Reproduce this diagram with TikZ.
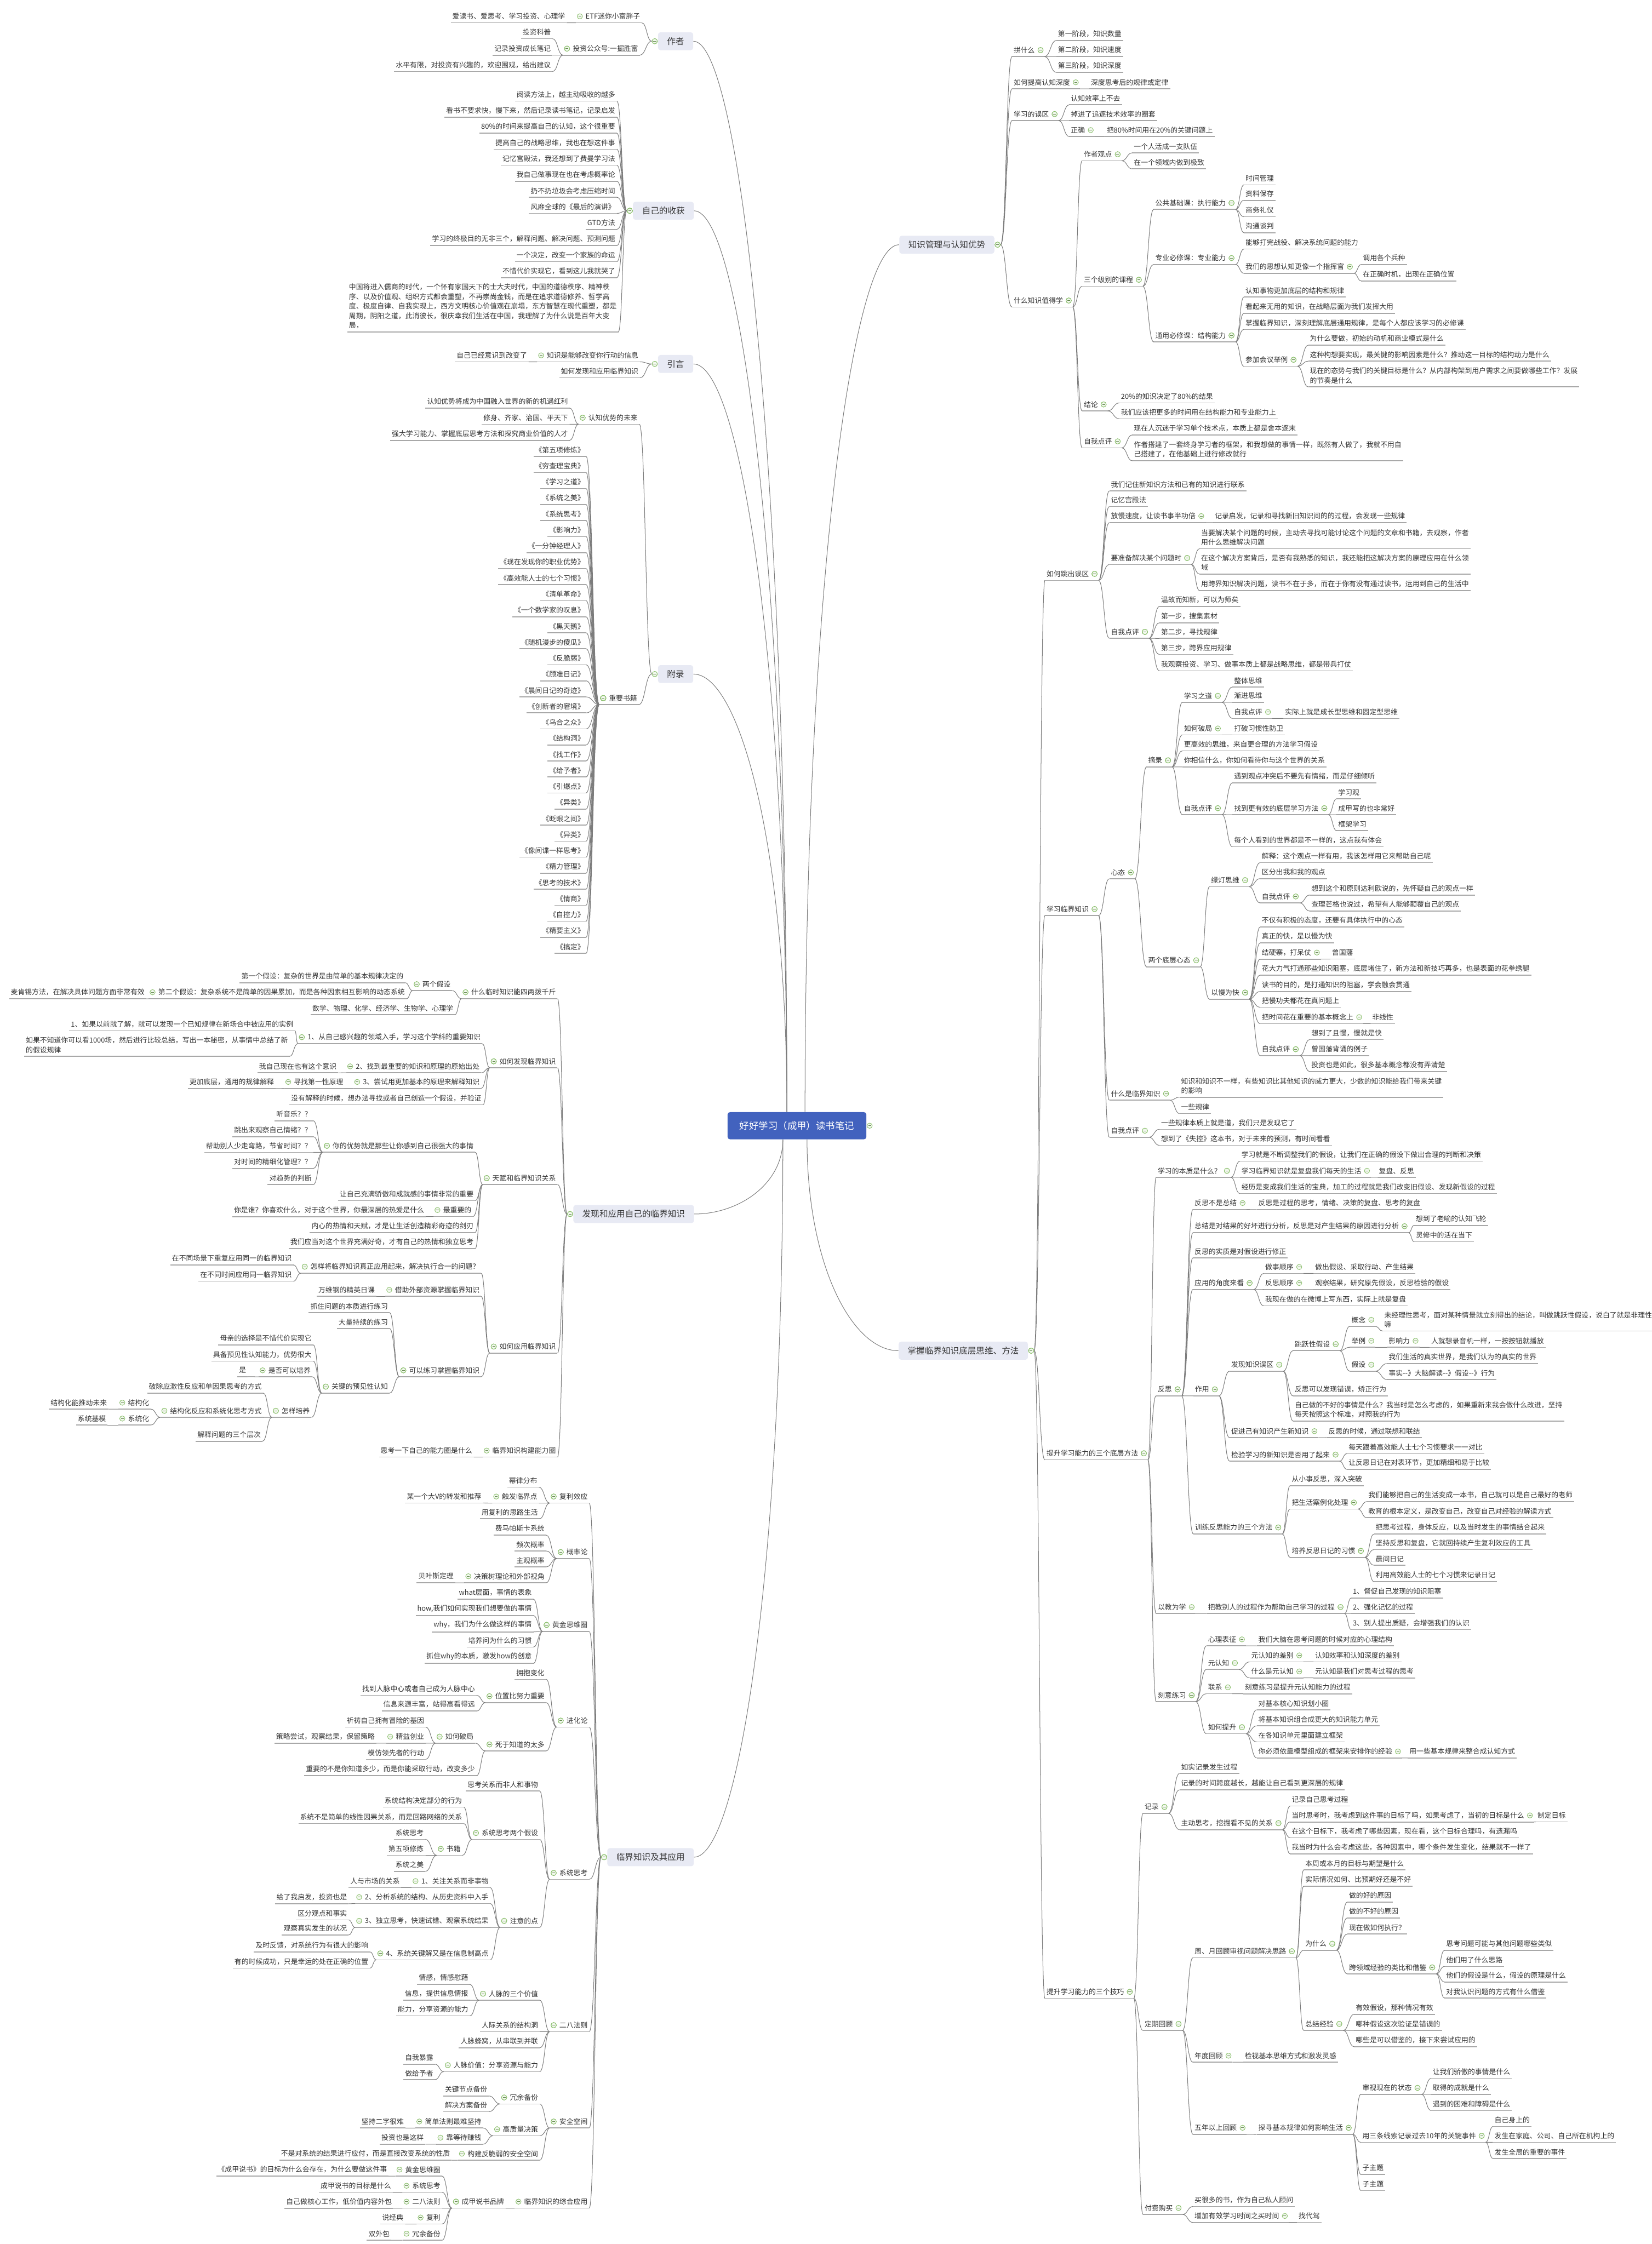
\documentclass[tikz,border=0pt]{standalone}
\usepackage{fontspec}
\setmainfont{Noto Sans CJK SC}
\usetikzlibrary{calc}
\definecolor{inkgray}{HTML}{333333}
\definecolor{ulgray}{HTML}{A8A8A8}
\definecolor{lnkgray}{HTML}{7C7C7C}
\definecolor{rootblue}{HTML}{4262BE}
\definecolor{boxfill}{HTML}{E8EAF4}
\definecolor{knobgreen}{HTML}{8CC06E}
\definecolor{knobfill}{HTML}{F2F8EE}
\tikzset{
  tp/.style={inner xsep=1.5pt, inner ysep=3pt, align=left, text=inkgray, font=\fontsize{7}{9.5}\selectfont},
  mainbox/.style={fill=boxfill, rounded corners=2.5pt, inner xsep=9pt, inner ysep=5pt, text=inkgray, font=\fontsize{8.5}{10}\selectfont},
  rootbox/.style={fill=rootblue, rounded corners=2.5pt, inner xsep=12pt, inner ysep=9pt, text=white, font=\fontsize{9.5}{11}\selectfont},
  ul/.style={draw=ulgray, line width=0.9pt},
  lnk/.style={draw=lnkgray, line width=0.55pt},
  knob/.style={draw=knobgreen, fill=knobfill, line width=0.5pt},
  knobbar/.style={draw=knobgreen!70!black, line width=0.5pt}
}
% link from a parent's out point to a child's underline end
\newcommand\lnkto[2]{%
  \draw[ul] (#1-u) -- (#1-o);
  \draw[lnk] (#1-o) .. controls ($(#1-o)!.5!(#1-o -| #2)$) and ($(#1-o |- #2)!.5!(#2)$) .. (#2);
  \draw[knob] (#1-k) circle[radius=2.6pt];
  \draw[knobbar] ([xshift=-1.4pt]#1-k) -- ([xshift=1.4pt]#1-k);}
% topics: name, parent, x, y, text
\newcommand\tpR[5]{%
  \node[tp,anchor=west] (#1) at ({#3},{#4}) {#5};
  \draw[ul] (#1.south west) -- (#1.south east);
  \coordinate (#1-u) at (#1.south east);
  \coordinate (#1-o) at ([xshift=8pt]#1.south east);
  \coordinate (#1-k) at ([xshift=4pt]#1.east);
  \lnkto{#2}{#1.south west}}
\newcommand\tpL[5]{%
  \node[tp,anchor=east] (#1) at ({#3},{#4}) {#5};
  \draw[ul] (#1.south west) -- (#1.south east);
  \coordinate (#1-u) at (#1.south west);
  \coordinate (#1-o) at ([xshift=-8pt]#1.south west);
  \coordinate (#1-k) at ([xshift=-4pt]#1.west);
  \lnkto{#2}{#1.south east}}
% main boxes: name, x, y, text
\newcommand\boxR[4]{%
  \node[mainbox] (#1) at (#2,#3) {#4};
  \coordinate (#1-u) at ([xshift=6pt]#1.east);
  \coordinate (#1-o) at ([xshift=6pt]#1.east);
  \coordinate (#1-k) at ([xshift=3pt]#1.east);}
\newcommand\boxL[4]{%
  \node[mainbox] (#1) at (#2,#3) {#4};
  \coordinate (#1-u) at ([xshift=-6pt]#1.west);
  \coordinate (#1-o) at ([xshift=-6pt]#1.west);
  \coordinate (#1-k) at ([xshift=-3pt]#1.west);}
\newcommand\rootto[2]{%
  \draw[lnk] (#1) .. controls ($(#1)!.6!(#1 |- #2)$) and ($(#2)!.5!(#2 -| #1)$) .. (#2);}

\begin{document}
\begin{tikzpicture}[x=0.05cm,y=-0.05cm]
\useasboundingbox (0,0) rectangle (1154,1568);
\fill[white] (0,0) rectangle (1154,1568);

\node[rootbox] (root) at (556.8,786.6) {好好学习（成甲）读书笔记};
\coordinate (rtl) at ([xshift=-10pt]root.north);
\coordinate (rtr) at ([xshift=8pt]root.north);
\coordinate (rbl) at ([xshift=-14pt]root.south);
\coordinate (rbr) at ([xshift=10pt]root.south);

\boxL{au}{472}{28.8}{作者}
\boxL{sh}{463.5}{147.3}{自己的收获}
\boxL{yy}{472}{254.3}{引言}
\boxL{fl}{472}{471}{附录}
\boxL{fx}{442.7}{848.3}{发现和应用自己的临界知识}
\boxL{lj}{454.5}{1297.7}{临界知识及其应用}
\boxR{km}{661.5}{171}{知识管理与认知优势}
\boxR{zw}{673}{943.8}{掌握临界知识底层思维、方法}

\rootto{rtl}{au.east}
\rootto{rtl}{sh.east}
\rootto{rtl}{yy.east}
\rootto{rtl}{fl.east}
\rootto{rtr}{km.west}
\rootto{rbl}{fx.east}
\rootto{rbl}{lj.east}
\rootto{rbr}{zw.west}
\draw[knob] ([xshift=3pt]root.east) circle[radius=2.6pt];
\draw[knobbar] ([xshift=1.6pt]root.east) -- ([xshift=4.4pt]root.east);

% 知识管理与认知优势
\tpR{km1}{km}{707}{35}{拼什么}
\tpR{km1a}{km1}{738}{23.7}{第一阶段，知识数量}
\tpR{km1b}{km1}{738}{34.9}{第二阶段，知识速度}
\tpR{km1c}{km1}{738}{46}{第三阶段，知识深度}
\tpR{km2}{km}{707}{57.5}{如何提高认知深度}
\tpR{km2a}{km2}{761}{57.5}{深度思考后的规律或定律}
\tpR{km3}{km}{707}{79.7}{学习的误区}
\tpR{km3a}{km3}{747}{68.7}{认知效率上不去}
\tpR{km3b}{km3}{747}{79.7}{掉进了追逐技术效率的圈套}
\tpR{km3c}{km3}{747}{90.9}{正确}
\tpR{km3c1}{km3c}{772}{90.9}{把80\%时间用在20\%的关键问题上}
\tpR{km4}{km}{707}{210}{什么知识值得学}
\tpR{km4a}{km4}{756}{107.8}{作者观点}
\tpR{km4a1}{km4a}{791}{102.3}{一个人活成一支队伍}
\tpR{km4a2}{km4a}{791}{113.5}{在一个领域内做到极致}
\tpR{km4b}{km4}{756}{195.5}{三个级别的课程}
\tpR{km4b1}{km4b}{806}{141.8}{公共基础课：执行能力}
\tpR{km4b1a}{km4b1}{869}{124.7}{时间管理}
\tpR{km4b1b}{km4b1}{869}{135.5}{资料保存}
\tpR{km4b1c}{km4b1}{869}{146.9}{商务礼仪}
\tpR{km4b1d}{km4b1}{869}{158.1}{沟通谈判}
\tpR{km4b2}{km4b}{806}{180.3}{专业必修课：专业能力}
\tpR{km4b2a}{km4b2}{869}{169.5}{能够打完战役、解决系统问题的能力}
\tpR{km4b2b}{km4b2}{869}{186.4}{我们的思想认知更像一个指挥官}
\tpR{km4b2b1}{km4b2b}{951}{180.3}{调用各个兵种}
\tpR{km4b2b2}{km4b2b}{951}{191.7}{在正确时机，出现在正确位置}
\tpR{km4b3}{km4b}{806}{234.4}{通用必修课：结构能力}
\tpR{km4b3a}{km4b3}{869}{203}{认知事物更加底层的结构和规律}
\tpR{km4b3b}{km4b3}{869}{214.4}{看起来无用的知识，在战略层面为我们发挥大用}
\tpR{km4b3c}{km4b3}{869}{225.6}{掌握临界知识，深刻理解底层通用规律，是每个人都应该学习的必修课}
\tpR{km4b3d}{km4b3}{869}{251.4}{参加会议举例}
\tpR{km4b3d1}{km4b3d}{914}{236.6}{为什么要做，初始的动机和商业模式是什么}
\tpR{km4b3d2}{km4b3d}{914}{247.8}{这种构想要实现，最关键的影响因素是什么？推动这一目标的结构动力是什么}
\tpR{km4b3d3}{km4b3d}{914}{262.5}{现在的态势与我们的关键目标是什么？从内部构架到用户需求之间要做哪些工作？发展\\的节奏是什么}
\tpR{km4c}{km4}{756}{282.6}{结论}
\tpR{km4c1}{km4c}{782}{277}{20\%的知识决定了80\%的结果}
\tpR{km4c2}{km4c}{782}{288.1}{我们应该把更多的时间用在结构能力和专业能力上}
\tpR{km4d}{km4}{756}{308.4}{自我点评}
\tpR{km4d1}{km4d}{791}{299.3}{现在人沉迷于学习单个技术点，本质上都是舍本逐末}
\tpR{km4d2}{km4d}{791}{314}{作者搭建了一套终身学习者的框架，和我想做的事情一样，既然有人做了，我就不用自\\己搭建了，在他基础上进行修改就行}

% 掌握临界知识底层思维、方法
\tpR{zw1}{zw}{730}{401}{如何跳出误区}
\tpR{zw1a}{zw1}{775}{338.5}{我们记住新知识方法和已有的知识进行联系}
\tpR{zw1b}{zw1}{775}{349.4}{记忆宫殿法}
\tpR{zw1c}{zw1}{775}{360.6}{放慢速度，让读书事半功倍}
\tpR{zw1c1}{zw1c}{847.6}{360.6}{记录启发，记录和寻找新旧知识间的的过程，会发现一些规律}
\tpR{zw1d}{zw1}{775}{389.9}{要准备解决某个问题时}
\tpR{zw1d1}{zw1d}{838}{375.5}{当要解决某个问题的时候，主动去寻找可能讨论这个问题的文章和书籍，去观察，作者\\用什么思维解决问题}
\tpR{zw1d2}{zw1d}{838}{393.2}{在这个解决方案背后，是否有我熟悉的知识，我还能把这解决方案的原理应用在什么领\\域}
\tpR{zw1d3}{zw1d}{838}{408}{用跨界知识解决问题，读书不在于多，而在于你有没有通过读书，运用到自己的生活中}
\tpR{zw1e}{zw1}{775}{441.5}{自我点评}
\tpR{zw1e1}{zw1e}{810}{419.2}{温故而知新，可以为师矣}
\tpR{zw1e2}{zw1e}{810}{430.6}{第一步，搜集素材}
\tpR{zw1e3}{zw1e}{810}{441.5}{第二步，寻找规律}
\tpR{zw1e4}{zw1e}{810}{452.7}{第三步，跨界应用规律}
\tpR{zw1e5}{zw1e}{810}{464.1}{我观察投资、学习、做事本质上都是战略思维，都是带兵打仗}

\tpR{zw2}{zw}{730}{635.2}{学习临界知识}
\tpR{zw2a}{zw2}{775}{609.6}{心态}
\tpR{zw2a1}{zw2a}{801}{531.3}{摘录}
\tpR{zw2a1a}{zw2a1}{826}{486.2}{学习之道}
\tpR{zw2a1a1}{zw2a1a}{861}{475.5}{整体思维}
\tpR{zw2a1a2}{zw2a1a}{861}{486.2}{渐进思维}
\tpR{zw2a1a3}{zw2a1a}{861}{497.5}{自我点评}
\tpR{zw2a1a3a}{zw2a1a3}{896.6}{497.5}{实际上就是成长型思维和固定型思维}
\tpR{zw2a1b}{zw2a1}{826}{509}{如何破局}
\tpR{zw2a1b1}{zw2a1b}{861}{509}{打破习惯性防卫}
\tpR{zw2a1c}{zw2a1}{826}{520.1}{更高效的思维，来自更合理的方法学习假设}
\tpR{zw2a1d}{zw2a1}{826}{531.3}{你相信什么，你如何看待你与这个世界的关系}
\tpR{zw2a1e}{zw2a1}{826}{564.7}{自我点评}
\tpR{zw2a1e1}{zw2a1e}{861}{542.4}{遇到观点冲突后不要先有情绪，而是仔细倾听}
\tpR{zw2a1e2}{zw2a1e}{861}{564.7}{找到更有效的底层学习方法}
\tpR{zw2a1e2a}{zw2a1e2}{933.8}{553.6}{学习观}
\tpR{zw2a1e2b}{zw2a1e2}{933.8}{564.7}{成甲写的也非常好}
\tpR{zw2a1e2c}{zw2a1e2}{933.8}{575.9}{框架学习}
\tpR{zw2a1e3}{zw2a1e}{861}{587.1}{每个人看到的世界都是不一样的，这点我有体会}
\tpR{zw2a2}{zw2a}{801}{671}{两个底层心态}
\tpR{zw2a2a}{zw2a2}{845}{615}{绿灯思维}
\tpR{zw2a2a1}{zw2a2a}{880.4}{598.2}{解释：这个观点一样有用，我该怎样用它来帮助自己呢}
\tpR{zw2a2a2}{zw2a2a}{880.4}{609.4}{区分出我和我的观点}
\tpR{zw2a2a3}{zw2a2a}{880.4}{626.4}{自我点评}
\tpR{zw2a2a3a}{zw2a2a3}{915}{620.8}{想到这个和原则达利欧说的，先怀疑自己的观点一样}
\tpR{zw2a2a3b}{zw2a2a3}{915}{632}{查理芒格也说过，希望有人能够颠覆自己的观点}
\tpR{zw2a2b}{zw2a2}{845}{693.6}{以慢为快}
\tpR{zw2a2b1}{zw2a2b}{880.4}{643.1}{不仅有积极的态度，还要有具体执行中的心态}
\tpR{zw2a2b2}{zw2a2b}{880.4}{654.3}{真正的快，是以慢为快}
\tpR{zw2a2b3}{zw2a2b}{880.4}{665.6}{结硬寨，打呆仗}
\tpR{zw2a2b3a}{zw2a2b3}{929.4}{665.6}{曾国藩}
\tpR{zw2a2b4}{zw2a2b}{880.4}{676.8}{花大力气打通那些知识阻塞，底层堵住了，新方法和新技巧再多，也是表面的花拳绣腿}
\tpR{zw2a2b5}{zw2a2b}{880.4}{688.2}{读书的目的，是打通知识的阻塞，学会融会贯通}
\tpR{zw2a2b6}{zw2a2b}{880.4}{699.3}{把慢功夫都花在真问题上}
\tpR{zw2a2b7}{zw2a2b}{880.4}{710.7}{把时间花在重要的基本概念上}
\tpR{zw2a2b7a}{zw2a2b7}{957.5}{710.7}{非线性}
\tpR{zw2a2b8}{zw2a2b}{880.4}{733.1}{自我点评}
\tpR{zw2a2b8a}{zw2a2b8}{915}{721.8}{想到了且慢，慢就是快}
\tpR{zw2a2b8b}{zw2a2b8}{915}{733.1}{曾国藩背诵的例子}
\tpR{zw2a2b8c}{zw2a2b8}{915}{744.1}{投资也是如此，很多基本概念都没有弄清楚}
\tpR{zw2b}{zw2}{775}{764.2}{什么是临界知识}
\tpR{zw2b1}{zw2b}{824}{758.8}{知识和知识不一样，有些知识比其他知识的威力更大，少数的知识能给我们带来关键\\的影响}
\tpR{zw2b2}{zw2b}{824}{773.6}{一些规律}
\tpR{zw2c}{zw2}{775}{790.1}{自我点评}
\tpR{zw2c1}{zw2c}{810}{784.5}{一些规律本质上就是道，我们只是发现它了}
\tpR{zw2c2}{zw2c}{810}{795.7}{想到了《失控》这本书，对于未来的预测，有时间看看}

\tpR{zw3}{zw}{730}{1015.5}{提升学习能力的三个底层方法}
\tpR{zw3a}{zw3}{807.7}{818.1}{学习的本质是什么？}
\tpR{zw3a1}{zw3a}{866.2}{806.8}{学习就是不断调整我们的假设，让我们在正确的假设下做出合理的判断和决策}
\tpR{zw3a2}{zw3a}{866.2}{818.1}{学习临界知识就是复盘我们每天的生活}
\tpR{zw3a2a}{zw3a2}{962.2}{818.1}{复盘、反思}
\tpR{zw3a3}{zw3a}{866.2}{829.4}{经历是变成我们生活的宝典，加工的过程就是我们改变旧假设、发现新假设的过程}
\tpR{zw3b}{zw3}{807.7}{970.8}{反思}
\tpR{zw3b1}{zw3b}{833.4}{840.6}{反思不是总结}
\tpR{zw3b1a}{zw3b1}{878}{840.6}{反思是过程的思考，情绪、决策的复盘、思考的复盘}
\tpR{zw3b2}{zw3b}{833.4}{856.8}{总结是对结果的好坏进行分析，反思是对产生结果的原因进行分析}
\tpR{zw3b2a}{zw3b2}{988}{851.7}{想到了老喻的认知飞轮}
\tpR{zw3b2b}{zw3b2}{988}{863.1}{灵修中的活在当下}
\tpR{zw3b3}{zw3b}{833.4}{874.4}{反思的实质是对假设进行修正}
\tpR{zw3b4}{zw3b}{833.4}{896.5}{应用的角度来看}
\tpR{zw3b4a}{zw3b4}{882.8}{885.3}{做事顺序}
\tpR{zw3b4a1}{zw3b4a}{917.6}{885.3}{做出假设、采取行动、产生结果}
\tpR{zw3b4b}{zw3b4}{882.8}{896.5}{反思顺序}
\tpR{zw3b4b1}{zw3b4b}{917.6}{896.5}{观察结果，研究原先假设，反思检验的假设}
\tpR{zw3b4c}{zw3b4}{882.8}{907.8}{我现在做的在微博上写东西，实际上就是复盘}
\tpR{zw3b5}{zw3b}{833.7}{970.8}{作用}
\tpR{zw3b5a}{zw3b5}{859}{953.6}{发现知识误区}
\tpR{zw3b5a1}{zw3b5a}{903.4}{939.2}{跳跃性假设}
\tpR{zw3b5a1a}{zw3b5a1}{943}{922.2}{概念}
\tpR{zw3b5a1a1}{zw3b5a1a}{966}{922.2}{未经理性思考，面对某种情景就立刻得出的结论，叫做跳跃性假设，说白了就是非理性\\嘛}
\tpR{zw3b5a1b}{zw3b5a1}{943}{936.9}{举例}
\tpR{zw3b5a1b1}{zw3b5a1b}{969}{936.9}{影响力}
\tpR{zw3b5a1b1a}{zw3b5a1b1}{998.7}{936.9}{人就想录音机一样，一按按钮就播放}
\tpR{zw3b5a1c}{zw3b5a1}{943}{953.6}{假设}
\tpR{zw3b5a1c1}{zw3b5a1c}{969}{948.2}{我们生活的真实世界，是我们认为的真实的世界}
\tpR{zw3b5a1c2}{zw3b5a1c}{969}{959.4}{事实-{}-》大脑解读-{}-》假设-{}-》行为}
\tpR{zw3b5a2}{zw3b5a}{903.4}{970.8}{反思可以发现错误，矫正行为}
\tpR{zw3b5a3}{zw3b5a}{903.4}{985.1}{自己做的不好的事情是什么？我当时是怎么考虑的，如果重新来我会做什么改进，坚持\\每天按照这个标准，对照我的行为}
\tpR{zw3b5b}{zw3b5}{859}{1000}{促进己有知识产生新知识}
\tpR{zw3b5b1}{zw3b5b}{927}{1000}{反思的时候，通过联想和联结}
\tpR{zw3b5c}{zw3b5}{859}{1016.4}{检验学习的新知识是否用了起来}
\tpR{zw3b5c1}{zw3b5c}{941}{1011.2}{每天跟着高效能人士七个习惯要求一一对比}
\tpR{zw3b5c2}{zw3b5c}{941}{1022.1}{让反思日记在对表环节，更加精细和易于比较}
\tpR{zw3b6}{zw3b}{833.7}{1067.3}{训练反思能力的三个方法}
\tpR{zw3b6a}{zw3b6}{901.3}{1033.5}{从小事反思，深入突破}
\tpR{zw3b6b}{zw3b6}{901.3}{1049.9}{把生活案例化处理}
\tpR{zw3b6b1}{zw3b6b}{954.8}{1044.7}{我们能够把自己的生活变成一本书，自己就可以是自己最好的老师}
\tpR{zw3b6b2}{zw3b6b}{954.8}{1055.9}{教育的根本定义，是改变自己，改变自己对经验的解读方式}
\tpR{zw3b6c}{zw3b6}{901.3}{1083.7}{培养反思日记的习惯}
\tpR{zw3b6c1}{zw3b6c}{959.9}{1067.3}{把思考过程，身体反应，以及当时发生的事情结合起来}
\tpR{zw3b6c2}{zw3b6c}{959.9}{1078.2}{坚持反思和复盘，它就回持续产生复利效应的工具}
\tpR{zw3b6c3}{zw3b6c}{959.9}{1089.2}{晨间日记}
\tpR{zw3b6c4}{zw3b6c}{959.9}{1100.6}{利用高效能人士的七个习惯来记录日记}
\tpR{zw3c}{zw3}{807.7}{1122.9}{以教为学}
\tpR{zw3c1}{zw3c}{842.8}{1122.9}{把教别人的过程作为帮助自己学习的过程}
\tpR{zw3c1a}{zw3c1}{944}{1112}{1、督促自己发现的知识阻塞}
\tpR{zw3c1b}{zw3c1}{944}{1122.9}{2、强化记忆的过程}
\tpR{zw3c1c}{zw3c1}{944}{1134.1}{3、别人提出质疑，会增强我们的认识}
\tpR{zw3d}{zw3}{807.7}{1184.5}{刻意练习}
\tpR{zw3d1}{zw3d}{842.8}{1145.5}{心理表征}
\tpR{zw3d1a}{zw3d1}{878}{1145.5}{我们大脑在思考问题的时候对应的心理结构}
\tpR{zw3d2}{zw3d}{842.8}{1162}{元认知}
\tpR{zw3d2a}{zw3d2}{873}{1156.7}{元认知的差别}
\tpR{zw3d2a1}{zw3d2a}{917.6}{1156.7}{认知效率和认知深度的差别}
\tpR{zw3d2b}{zw3d2}{873}{1167.9}{什么是元认知}
\tpR{zw3d2b1}{zw3d2b}{917.6}{1167.9}{元认知是我们对思考过程的思考}
\tpR{zw3d3}{zw3d}{842.8}{1179}{联系}
\tpR{zw3d3a}{zw3d3}{868.5}{1179}{刻意练习是提升元认知能力的过程}
\tpR{zw3d4}{zw3d}{842.8}{1206.9}{如何提升}
\tpR{zw3d4a}{zw3d4}{878}{1190.2}{对基本核心知识划小圈}
\tpR{zw3d4b}{zw3d4}{878}{1201.4}{将基本知识组合成更大的知识能力单元}
\tpR{zw3d4c}{zw3d4}{878}{1212.6}{在各知识单元里面建立框架}
\tpR{zw3d4d}{zw3d4}{878}{1223.8}{你必须依靠模型组成的框架来安排你的经验}
\tpR{zw3d4d1}{zw3d4d}{983.5}{1223.8}{用一些基本规律来整合成认知方式}

\tpR{zw4}{zw}{730}{1391.8}{提升学习能力的三个技巧}
\tpR{zw4a}{zw4}{798.5}{1262.6}{记录}
\tpR{zw4a1}{zw4a}{824}{1234.7}{如实记录发生过程}
\tpR{zw4a2}{zw4a}{824}{1246.1}{记录的时间跨度越长，越能让自己看到更深层的规律}
\tpR{zw4a3}{zw4a}{824}{1273.9}{主动思考，挖掘看不见的关系}
\tpR{zw4a3a}{zw4a3}{901.3}{1257.4}{记录自己思考过程}
\tpR{zw4a3b}{zw4a3}{901.3}{1268.5}{当时思考时，我考虑到这件事的目标了吗，如果考虑了，当初的目标是什么}
\tpR{zw4a3b1}{zw4a3b}{1073}{1268.5}{制定目标}
\tpR{zw4a3c}{zw4a3}{901.3}{1279.5}{在这个目标下，我考虑了哪些因素，现在看，这个目标合理吗，有遗漏吗}
\tpR{zw4a3d}{zw4a3}{901.3}{1290.8}{我当时为什么会考虑这些，各种因素中，哪个条件发生变化，结果就不一样了}
\tpR{zw4b}{zw4}{798.5}{1414.2}{定期回顾}
\tpR{zw4b1}{zw4b}{833.4}{1363.4}{周、月回顾审视问题解决思路}
\tpR{zw4b1a}{zw4b1}{910.8}{1302.1}{本周或本月的目标与期望是什么}
\tpR{zw4b1b}{zw4b1}{910.8}{1313.4}{实际情况如何、比预期好还是不好}
\tpR{zw4b1c}{zw4b1}{910.8}{1358.2}{为什么}
\tpR{zw4b1c1}{zw4b1c}{941.3}{1324.5}{做的好的原因}
\tpR{zw4b1c2}{zw4b1c}{941.3}{1335.6}{做的不好的原因}
\tpR{zw4b1c3}{zw4b1c}{941.3}{1346.9}{现在做如何执行？}
\tpR{zw4b1c4}{zw4b1c}{941.3}{1374.7}{跨领域经验的类比和借鉴}
\tpR{zw4b1c4a}{zw4b1c4}{1009.2}{1358.2}{思考问题可能与其他问题哪些类似}
\tpR{zw4b1c4b}{zw4b1c4}{1009.2}{1369.5}{他们用了什么思路}
\tpR{zw4b1c4c}{zw4b1c4}{1009.2}{1380.3}{他们的假设是什么，假设的原理是什么}
\tpR{zw4b1c4d}{zw4b1c4}{1009.2}{1391.6}{对我认识问题的方式有什么借鉴}
\tpR{zw4b1d}{zw4b1}{910.8}{1414.2}{总结经验}
\tpR{zw4b1d1}{zw4b1d}{946}{1402.9}{有效假设，那种情况有效}
\tpR{zw4b1d2}{zw4b1d}{946}{1414.2}{哪种假设这次验证是错误的}
\tpR{zw4b1d3}{zw4b1d}{946}{1425.5}{哪些是可以借鉴的，接下来尝试应用的}
\tpR{zw4b2}{zw4b}{833.4}{1436.4}{年度回顾}
\tpR{zw4b2a}{zw4b2}{868.5}{1436.4}{检视基本思维方式和激发灵感}
\tpR{zw4b3}{zw4b}{833.4}{1486.8}{五年以上回顾}
\tpR{zw4b3a}{zw4b3}{878}{1486.8}{探寻基本规律如何影响生活}
\tpR{zw4b3a1}{zw4b3a}{950.7}{1458.9}{审视现在的状态}
\tpR{zw4b3a1a}{zw4b3a1}{999.8}{1447.7}{让我们骄傲的事情是什么}
\tpR{zw4b3a1b}{zw4b3a1}{999.8}{1458.9}{取得的成就是什么}
\tpR{zw4b3a1c}{zw4b3a1}{999.8}{1470.2}{遇到的困难和障碍是什么}
\tpR{zw4b3a2}{zw4b3a}{950.7}{1492.4}{用三条线索记录过去10年的关键事件}
\tpR{zw4b3a2a}{zw4b3a2}{1043}{1481.3}{自己身上的}
\tpR{zw4b3a2b}{zw4b3a2}{1043}{1492.4}{发生在家庭、公司、自己所在机构上的}
\tpR{zw4b3a2c}{zw4b3a2}{1043}{1503.7}{发生全局的重要的事件}
\tpR{zw4b3a3}{zw4b3a}{950.7}{1514.8}{子主题}
\tpR{zw4b3a4}{zw4b3a}{950.7}{1526.1}{子主题}
\tpR{zw4c}{zw4}{798.5}{1542.8}{付费购买}
\tpR{zw4c1}{zw4c}{833.4}{1537.2}{买很多的书，作为自己私人顾问}
\tpR{zw4c2}{zw4c}{833.4}{1548.4}{增加有效学习时间之买时间}
\tpR{zw4c2a}{zw4c2}{906.1}{1548.4}{找代驾}

% 作者
\tpL{au1}{au}{448.4}{11.4}{ETF迷你小富胖子}
\tpL{au1a}{au1}{396}{11.4}{爱读书、爱思考、学习投资、心理学}
\tpL{au2}{au}{447}{34}{投资公众号:一掘胜富}
\tpL{au2a}{au2}{386}{22.5}{投资科普}
\tpL{au2b}{au2}{386}{34}{记录投资成长笔记}
\tpL{au2c}{au2}{386}{45.4}{水平有限，对投资有兴趣的，欢迎围观，给出建议}

% 自己的收获
\foreach \gain [count=\i] in {阅读方法上，越主动吸收的越多,看书不要求快，慢下来，然后记录读书笔记，记录启发,80\%的时间来提高自己的认知，这个很重要,提高自己的战略思维，我也在想这件事,记忆宫殿法，我还想到了费曼学习法,我自己做事现在也在考虑概率论,扔不扔垃圾会考虑压缩时间,风靡全球的《最后的演讲》,GTD方法,学习的终极目的无非三个，解释问题、解决问题、预测问题,一个决定，改变一个家族的命运,不惜代价实现它，看到这儿我就哭了}
  {\tpL{sh\i}{sh}{431}{66+(\i-1)*11.22}{\gain}}
\tpL{sh13}{sh}{432}{214}{中国将进入儒商的时代，一个怀有家国天下的士大夫时代，中国的道德秩序、精神秩\\序、以及价值观、组织方式都会重塑，不再崇尚金钱，而是在追求道德修养、哲学高\\度、极度自律、自我实现上，西方文明核心价值观在崩塌，东方智慧在现代重塑，都是\\周期，阴阳之道，此消彼长，很庆幸我们生活在中国，我理解了为什么说是百年大变\\局，}

% 引言
\tpL{yy1}{yy}{447.2}{248.3}{知识是能够改变你行动的信息}
\tpL{yy1a}{yy1}{369.4}{248.3}{自己已经意识到改变了}
\tpL{yy2}{yy}{447.2}{259.4}{如何发现和应用临界知识}

% 附录
\tpL{fl1}{fl}{446.7}{291.9}{认知优势的未来}
\tpL{fl1a}{fl1}{398}{280.6}{认知优势将成为中国融入世界的新的机遇红利}
\tpL{fl1b}{fl1}{398}{291.9}{修身、齐家、治国、平天下}
\tpL{fl1c}{fl1}{398}{303.1}{强大学习能力、掌握底层思考方法和探究商业价值的人才}
\tpL{fl2}{fl}{446.3}{487.8}{重要书籍}
\foreach \bk [count=\i] in {第五项修炼,穷查理宝典,学习之道,系统之美,系统思考,影响力,一分钟经理人,现在发现你的职业优势,高效能人士的七个习惯,清单革命,一个数学家的叹息,黑天鹅,随机漫步的傻瓜,反脆弱,顾准日记,晨间日记的奇迹,创新者的窘境,乌合之众,结构洞,找工作,给予者,引爆点,异类,眨眼之间,异类,像间谍一样思考,精力管理,思考的技术,情商,自控力,精要主义,搞定}
  {\tpL{bk\i}{fl2}{409.5}{314.4+(\i-1)*11.2}{《\bk》}}

% 发现和应用自己的临界知识
\tpL{fx1}{fx}{389.5}{693.3}{什么临时知识能四两拨千斤}
\tpL{fx1a}{fx1}{316}{687.7}{两个假设}
\tpL{fx1a1}{fx1a}{283}{682.1}{第一个假设：复杂的世界是由简单的基本规律决定的}
\tpL{fx1a2}{fx1a}{284}{693.3}{第二个假设：复杂系统不是简单的因果累加，而是各种因素相互影响的动态系统}
\tpL{fx1a2a}{fx1a2}{102.2}{693.3}{麦肯锡方法，在解决具体问题方面非常有效}
\tpL{fx1b}{fx1}{317.8}{704.5}{数学、物理、化学、经济学、生物学、心理学}
\tpL{fx2}{fx}{389.5}{741.6}{如何发现临界知识}
\tpL{fx2a}{fx2}{336.9}{724.7}{1、从自己感兴趣的领域入手，学习这个学科的重要知识}
\tpL{fx2a1}{fx2a}{206}{715.6}{1、如果以前就了解，就可以发现一个已知规律在新场合中被应用的实例}
\tpL{fx2a2}{fx2a}{202.4}{730.2}{如果不知道你可以看1000场，然后进行比较总结，写出一本秘密，从事情中总结了新\\的假设规律}
\tpL{fx2b}{fx2}{336.2}{745.1}{2、找到最重要的知识和原理的原始出处}
\tpL{fx2b1}{fx2b}{236.3}{745.1}{我自己现在也有这个意识}
\tpL{fx2c}{fx2}{336.2}{756}{3、尝试用更加基本的原理来解释知识}
\tpL{fx2c1}{fx2c}{241}{756}{寻找第一性原理}
\tpL{fx2c1a}{fx2c1}{192.6}{756}{更加底层，通用的规律解释}
\tpL{fx2d}{fx2}{337.5}{767.3}{没有解释的时候，想办法寻找或者自己创造一个假设，并验证}
\tpL{fx3}{fx}{389.5}{823.2}{天赋和临界知识关系}
\tpL{fx3a}{fx3}{332}{800.6}{你的优势就是那些让你感到自己很强大的事情}
\tpL{fx3a1}{fx3a}{218.9}{778.6}{听音乐？？}
\tpL{fx3a2}{fx3a}{218.9}{789.7}{跳出来观察自己情绪？？}
\tpL{fx3a3}{fx3a}{218.9}{800.6}{帮助别人少走弯路，节省时间？？}
\tpL{fx3a4}{fx3a}{218.9}{811.9}{对时间的精细化管理？？}
\tpL{fx3a5}{fx3a}{218.9}{823.2}{对趋势的判断}
\tpL{fx3b}{fx3}{332}{834.4}{让自己充满骄傲和成就感的事情非常的重要}
\tpL{fx3c}{fx3}{330.5}{845.5}{最重要的}
\tpL{fx3c1}{fx3c}{297.5}{845.5}{你是谁？你喜欢什么，对于这个世界，你最深层的热爱是什么}
\tpL{fx3d}{fx3}{332}{856.6}{内心的热情和天赋，才是让生活创造精彩奇迹的剑刃}
\tpL{fx3e}{fx3}{332}{867.9}{我们应当对这个世界充满好奇，才有自己的热情和独立思考}
\tpL{fx4}{fx}{389.5}{940.9}{如何应用临界知识}
\tpL{fx4a}{fx4}{336.2}{885.1}{怎样将临界知识真正应用起来，解决执行合一的问题？}
\tpL{fx4a1}{fx4a}{205}{879.3}{在不同场景下重复应用同一的临界知识}
\tpL{fx4a2}{fx4a}{205}{890.7}{在不同时间应用同一临界知识}
\tpL{fx4b}{fx4}{336.2}{901.3}{借助外部资源掌握临界知识}
\tpL{fx4b1}{fx4b}{263}{901.3}{万维钢的精英日课}
\tpL{fx4c}{fx4}{336.2}{957.5}{可以练习掌握临界知识}
\tpL{fx4c1}{fx4c}{272.2}{912.7}{抓住问题的本质进行练习}
\tpL{fx4c2}{fx4c}{272.2}{923.8}{大量持续的练习}
\tpL{fx4c3}{fx4c}{272.2}{968.9}{关键的预见性认知}
\tpL{fx4c3a}{fx4c3}{218.9}{935.2}{母亲的选择是不惜代价实现它}
\tpL{fx4c3b}{fx4c3}{218.9}{946.5}{具备预见性认知能力，优势很大}
\tpL{fx4c3c}{fx4c3}{218.2}{957.5}{是否可以培养}
\tpL{fx4c3c1}{fx4c3c}{173.2}{957.5}{是}
\tpL{fx4c3d}{fx4c3}{217.6}{985.8}{怎样培养}
\tpL{fx4c3d1}{fx4c3d}{184}{968.9}{破除应激性反应和单因果思考的方式}
\tpL{fx4c3d2}{fx4c3d}{184}{985.8}{结构化反应和系统化思考方式}
\tpL{fx4c3d2a}{fx4c3d2}{105.4}{980.1}{结构化}
\tpL{fx4c3d2a1}{fx4c3d2a}{75.9}{980.1}{结构化能推动未来}
\tpL{fx4c3d2b}{fx4c3d2}{105.4}{991.2}{系统化}
\tpL{fx4c3d2b1}{fx4c3d2b}{75.2}{991.2}{系统基模}
\tpL{fx4c3d3}{fx4c3d}{183.4}{1002.5}{解释问题的三个层次}
\tpL{fx5}{fx}{389.5}{1013.6}{临界知识构建能力圈}
\tpL{fx5a}{fx5}{331.1}{1013.6}{思考一下自己的能力圈是什么}

% 临界知识及其应用
\tpL{lj1}{lj}{411.7}{1045.7}{复利效应}
\tpL{lj1a}{lj1}{376.5}{1034.6}{幂律分布}
\tpL{lj1b}{lj1}{376.5}{1045.7}{触发临界点}
\tpL{lj1b1}{lj1b}{337.5}{1045.7}{某一个大V的转发和推荐}
\tpL{lj1c}{lj1}{377}{1056.7}{用复利的思路生活}
\tpL{lj2}{lj}{411.7}{1084.5}{概率论}
\tpL{lj2a}{lj2}{381.6}{1068.1}{费马帕斯卡系统}
\tpL{lj2b}{lj2}{381.6}{1079.2}{频次概率}
\tpL{lj2c}{lj2}{381.6}{1090.3}{主观概率}
\tpL{lj2d}{lj2}{381.6}{1101.4}{决策树理论和外部视角}
\tpL{lj2d1}{lj2d}{318.1}{1101.4}{贝叶斯定理}
\tpL{lj3}{lj}{411.7}{1135.4}{黄金思维圈}
\tpL{lj3a}{lj3}{372.7}{1112.9}{what层面，事情的表象}
\tpL{lj3b}{lj3}{372.7}{1124.1}{how,我们如何实现我们想要做的事情}
\tpL{lj3c}{lj3}{372.7}{1135.4}{why，我们为什么做这样的事情}
\tpL{lj3d}{lj3}{372.7}{1146.3}{培养问为什么的习惯}
\tpL{lj3e}{lj3}{372.7}{1157.4}{抓住why的本质，激发how的创意}
\tpL{lj4}{lj}{411.7}{1202.3}{进化论}
\tpL{lj4a}{lj4}{381.6}{1168.9}{拥抱变化}
\tpL{lj4b}{lj4}{381.6}{1185.2}{位置比努力重要}
\tpL{lj4b1}{lj4b}{333}{1180.1}{找到人脉中心或者自己成为人脉中心}
\tpL{lj4b2}{lj4b}{333}{1191}{信息来源丰富，站得高看得远}
\tpL{lj4c}{lj4}{381.6}{1218.9}{死于知道的太多}
\tpL{lj4c1}{lj4c}{332}{1213.5}{如何破局}
\tpL{lj4c1a}{lj4c1}{297.5}{1202.3}{祈祷自己拥有冒险的基因}
\tpL{lj4c1b}{lj4c1}{297.5}{1213.5}{精益创业}
\tpL{lj4c1b1}{lj4c1b}{263}{1213.5}{策略尝试，观察结果，保留策略}
\tpL{lj4c1c}{lj4c1}{297.5}{1224.8}{模仿领先者的行动}
\tpL{lj4c2}{lj4c}{333}{1236.1}{重要的不是你知道多少，而是你能采取行动，改变多少}
\tpL{lj5}{lj}{411.7}{1308.7}{系统思考}
\tpL{lj5a}{lj5}{377.1}{1247}{思考关系而非人和事物}
\tpL{lj5b}{lj5}{377.1}{1280.8}{系统思考两个假设}
\tpL{lj5b1}{lj5b}{324}{1258.2}{系统结构决定部分的行为}
\tpL{lj5b2}{lj5b}{324}{1269.6}{系统不是简单的线性因果关系，而是回路网络的关系}
\tpL{lj5b3}{lj5b}{323}{1291.9}{书籍}
\tpL{lj5b3a}{lj5b3}{297.2}{1280.7}{系统思考}
\tpL{lj5b3b}{lj5b3}{297.2}{1291.9}{第五项修炼}
\tpL{lj5b3c}{lj5b3}{297.2}{1303.1}{系统之美}
\tpL{lj5c}{lj5}{377.1}{1342.2}{注意的点}
\tpL{lj5c1}{lj5c}{342.5}{1314.4}{1、关注关系而非事物}
\tpL{lj5c1a}{lj5c1}{280.4}{1314.4}{人与市场的关系}
\tpL{lj5c2}{lj5c}{342.5}{1325.6}{2、分析系统的结构、从历史资料中入手}
\tpL{lj5c2a}{lj5c2}{243.6}{1325.6}{给了我启发，投资也是}
\tpL{lj5c3}{lj5c}{342.5}{1342.2}{3、独立思考，快速试错、观察系统结果}
\tpL{lj5c3a}{lj5c3}{243.6}{1337}{区分观点和事实}
\tpL{lj5c3b}{lj5c3}{243.6}{1347.5}{观察真实发生的状况}
\tpL{lj5c4}{lj5c}{342.5}{1364.9}{4、系统关键解又是在信息制高点}
\tpL{lj5c4a}{lj5c4}{258.5}{1359.3}{及时反馈，对系统行为有很大的影响}
\tpL{lj5c4b}{lj5c4}{258.5}{1370.6}{有的时候成功，只是幸运的处在正确的位置}
\tpL{lj6}{lj}{411.7}{1415.1}{二八法则}
\tpL{lj6a}{lj6}{377.1}{1393.1}{人脉的三个价值}
\tpL{lj6a1}{lj6a}{328.3}{1382}{情感，情感慰藉}
\tpL{lj6a2}{lj6a}{328.3}{1393.1}{信息，提供信息情报}
\tpL{lj6a3}{lj6a}{328.3}{1404}{能力，分享资源的能力}
\tpL{lj6b}{lj6}{377.1}{1415.1}{人际关系的结构洞}
\tpL{lj6c}{lj6}{377.1}{1426.3}{人脉蜂窝，从串联到并联}
\tpL{lj6d}{lj6}{377.1}{1443}{人脉价值：分享资源与能力}
\tpL{lj6d1}{lj6d}{303.9}{1437.8}{自我暴露}
\tpL{lj6d2}{lj6d}{303.9}{1448.6}{做给予者}
\tpL{lj7}{lj}{411.7}{1482.4}{安全空间}
\tpL{lj7a}{lj7}{377.1}{1465.6}{冗余备份}
\tpL{lj7a1}{lj7a}{341.6}{1460}{关键节点备份}
\tpL{lj7a2}{lj7a}{341.6}{1471}{解决方案备份}
\tpL{lj7b}{lj7}{377.1}{1487.8}{高质量决策}
\tpL{lj7b1}{lj7b}{337.5}{1482.4}{简单法则最难坚持}
\tpL{lj7b1a}{lj7b1}{283.3}{1482.4}{坚持二字很难}
\tpL{lj7b2}{lj7b}{337.5}{1493.7}{靠等待赚钱}
\tpL{lj7b2a}{lj7b2}{297.2}{1493.7}{投资也是这样}
\tpL{lj7c}{lj7}{377.1}{1504.9}{构建反脆弱的安全空间}
\tpL{lj7c1}{lj7c}{315.6}{1504.9}{不是对系统的结果进行应付，而是直接改变系统的性质}
\tpL{lj8}{lj}{411.7}{1538.4}{临界知识的综合应用}
\tpL{lj8a}{lj8}{353.3}{1538.4}{成甲说书品牌}
\tpL{lj8a1}{lj8a}{308.9}{1516}{黄金思维圈}
\tpL{lj8a1a}{lj8a1}{271.5}{1516}{《成甲说书》的目标为什么会存在，为什么要做这件事}
\tpL{lj8a2}{lj8a}{308.9}{1527.3}{系统思考}
\tpL{lj8a2a}{lj8a2}{274.4}{1527.3}{成甲说书的目标是什么}
\tpL{lj8a3}{lj8a}{308.9}{1538.4}{二八法则}
\tpL{lj8a3a}{lj8a3}{275}{1538.4}{自己做核心工作，低价值内容外包}
\tpL{lj8a4}{lj8a}{308.9}{1549.5}{复利}
\tpL{lj8a4a}{lj8a4}{283}{1549.5}{说经典}
\tpL{lj8a5}{lj8a}{308.9}{1560.8}{冗余备份}
\tpL{lj8a5a}{lj8a5}{273.4}{1560.8}{双外包}
\end{tikzpicture}
\end{document}
